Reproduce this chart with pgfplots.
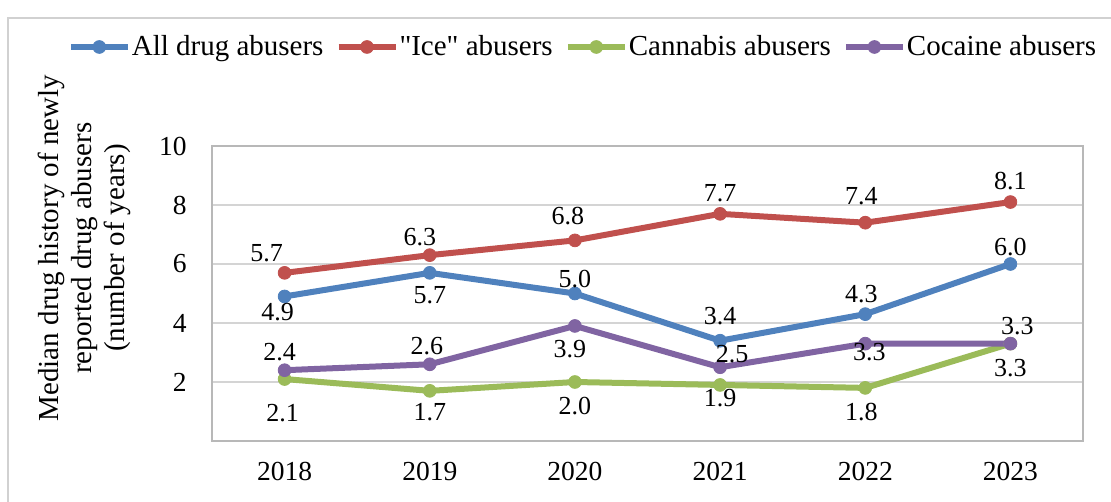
\documentclass[border=0pt]{standalone}
\usepackage{fontspec}
\setmainfont{Liberation Serif}[Ligatures=TeXOff]
\usepackage{pgfplots}
\pgfplotsset{compat=1.18}
\usepackage{pgfplotstable}
\definecolor{cAll}{RGB}{79,129,189}
\definecolor{cIce}{RGB}{192,80,77}
\definecolor{cCan}{RGB}{155,187,89}
\definecolor{cCoc}{RGB}{128,100,162}

\pgfplotstableread{
x y dx dy
0 4.9 -3.5 -8
1 5.7 0 -11
2 5.0 0 7
3 3.4 0 12.5
4 4.3 -2 10
5 6.0 0 8.5
}\tabAll
\pgfplotstableread{
x y dx dy
0 5.7 -9 10
1 6.3 -5 9
2 6.8 -3.5 12
3 7.7 0 10.5
4 7.4 -2 13.5
5 8.1 0 10.5
}\tabIce
\pgfplotstableread{
x y dx dy
0 2.1 -1 -17
1 1.7 0 -10.5
2 2.0 0 -12
3 1.9 0 -6.5
4 1.8 -2 -12
5 3.3 0 -12
}\tabCan
\pgfplotstableread{
x y dx dy
0 2.4 -2.5 9
1 2.6 -1.5 9
2 3.9 -2.5 -11.5
3 2.5 6 6.5
4 3.3 2 -4
5 3.3 3.5 9
}\tabCoc

\begin{document}
\begin{tikzpicture}
\path[use as bounding box] (0,0) rectangle (555.5pt,251pt);
\draw[black!18, line width=0.75pt] (4pt,0) -- (4pt,242pt) -- (556pt,242pt);
\begin{axis}[
 at={(106pt,30.5pt)}, anchor=south west,
 scale only axis, width=435.5pt, height=147.5pt,
 xmin=-0.5, xmax=5.5, ymin=0, ymax=10,
 xtick={0,...,5}, xticklabels={2018,2019,2020,2021,2022,2023},
 ytick={2,4,6,8,10},
 major tick length=0pt,
 ymajorgrids, major grid style={black!17, line width=0.75pt},
 axis line style={black!28, line width=0.75pt},
 /pgf/number format/assume math mode=true,
 tick label style={font=\fontsize{13.75}{16}\selectfont},
 yticklabel style={anchor=east, inner sep=0pt, xshift=-12.5pt},
 xticklabel style={anchor=north, inner sep=0pt, yshift=-10.5pt},
 ylabel={Median drug history of newly\\reported drug abusers\\(number of years)},
 ylabel style={at={(axis description cs:-0.146,0.654)}, anchor=center, align=center, font=\fontsize{14.5}{16.5}\selectfont},
 legend columns=4,
 legend style={at={(axis description cs:-0.166,1.3356)}, anchor=west, draw=none, fill=none, inner sep=0pt,
   nodes={inner sep=0pt},
   font=\fontsize{14.5}{17}\selectfont,
   /tikz/every odd column/.append style={column sep=0.5pt},
   /tikz/every even column/.append style={column sep=6pt}},
 legend image code/.code={\draw[mark repeat=2,mark phase=2,#1] plot coordinates {(0pt,0pt) (14.25pt,0pt) (28.5pt,0pt)};},
 every axis plot/.append style={line width=3pt, mark=*, mark size=3.2pt, mark options={line width=0.4pt, solid}},
 point meta=y,
 nodes near coords={\pgfmathprintnumber[fixed,fixed zerofill,precision=1]{\pgfplotspointmeta}},
 visualization depends on={\thisrow{dx} \as \dx},
 visualization depends on={\thisrow{dy} \as \dy},
 every node near coord/.append style={anchor=center, xshift=\dx pt, yshift=\dy pt, font=\fontsize{13}{15}\selectfont, text=black, inner sep=0pt},
]
\addplot[color=cAll] table[x=x,y=y] {\tabAll};
\addlegendentry{All drug abusers}
\addplot[color=cIce] table[x=x,y=y] {\tabIce};
\addlegendentry{"Ice" abusers}
\addplot[color=cCan] table[x=x,y=y] {\tabCan};
\addlegendentry{Cannabis abusers}
\addplot[color=cCoc] table[x=x,y=y] {\tabCoc};
\addlegendentry{Cocaine abusers}
\end{axis}
\end{tikzpicture}
\end{document}
